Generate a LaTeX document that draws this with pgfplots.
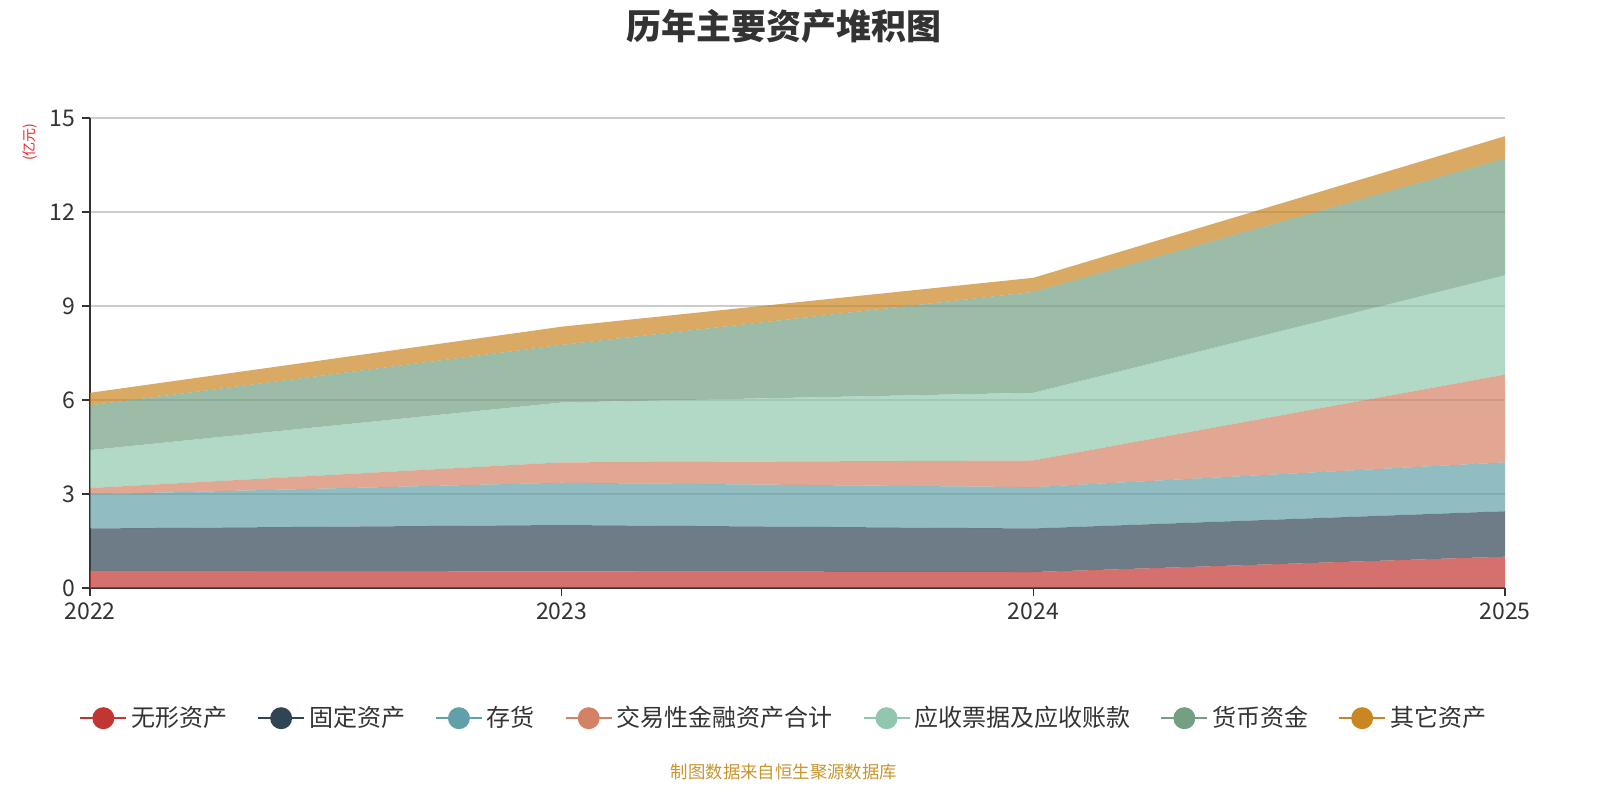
\documentclass[border=0pt]{standalone}
\usepackage{fontspec}
\setmainfont{Noto Sans CJK SC}
\usepackage{pgfplots}
\pgfplotsset{compat=1.18}

\definecolor{c1}{HTML}{C23531}
\definecolor{c2}{HTML}{2F4554}
\definecolor{c3}{HTML}{61A0A8}
\definecolor{c4}{HTML}{D48265}
\definecolor{c5}{HTML}{91C7AE}
\definecolor{c6}{HTML}{749F83}
\definecolor{c7}{HTML}{CA8622}
\definecolor{textdark}{HTML}{333333}
\definecolor{gridgray}{HTML}{CCCCCC}
\definecolor{footgold}{HTML}{C8962E}
\definecolor{unitred}{HTML}{E8262A}

\pgfplotsset{
  myleg/.style={legend image code/.code={
      \draw[#1, line width=0.9pt, opacity=1] (0pt,0pt) -- (23pt,0pt);
      \fill[#1, opacity=1] (11.5pt,0pt) circle (5.5pt);}},
  myarea/.style={fill=#1, fill opacity=0.7, draw=none, myleg=#1},
}

\begin{document}
\begin{tikzpicture}

\node[font=\fontsize{17.5}{20}\selectfont\bfseries, text=textdark] at (392pt,387pt) {历年主要资产堆积图};
\node[rotate=90, text=unitred, font=\fontsize{7}{8}\selectfont] at (15pt,329pt) {(亿元)};
\node[text=footgold, font=\fontsize{8.7}{10}\selectfont] at (392pt,14pt) {制图数据来自恒生聚源数据库};

\begin{axis}[
    at={(45pt,106pt)}, anchor=south west,
    scale only axis,
    width=707.5pt, height=235pt,
    xmin=2022, xmax=2025,
    ymin=0, ymax=15,
    xtick={2022,2023,2024,2025},
    ytick={0,3,6,9,12,15},
    x tick label style={/pgf/number format/1000 sep={}},
    /pgf/number format/assume math mode=true,
    ticklabel style={font=\fontsize{11.5}{13}\selectfont, text=textdark},
    axis lines*=left,
    axis line style={draw=textdark, line width=0.7pt},
    tick align=outside,
    major tick length=4pt,
    tick style={draw=textdark, line width=0.7pt},
    ymajorgrids=true,
    grid style={draw=gridgray, line width=0.6pt},
    stack plots=y,
    legend columns=-1,
    legend cell align=left,
    legend style={draw=none, fill=none,
      at={(0.491,-0.277)}, anchor=center,
      font=\fontsize{12}{14}\selectfont, text=textdark,
      /tikz/every even column/.append style={column sep=13pt}},
]

% 无形资产
\addplot[myarea=c1] coordinates {
  (2022,0.55)(2023,0.53)(2024,0.51)(2025,1.00)
} \closedcycle;
\addlegendentry{无形资产}

% 固定资产
\addplot[myarea=c2] coordinates {
  (2022,1.35)(2023,1.48)(2024,1.39)(2025,1.45)
} \closedcycle;
\addlegendentry{固定资产}

% 存货
\addplot[myarea=c3] coordinates {
  (2022,1.09)(2023,1.35)(2024,1.32)(2025,1.56)
} \closedcycle;
\addlegendentry{存货}

% 交易性金融资产合计
\addplot[myarea=c4] coordinates {
  (2022,0.20)(2023,0.65)(2024,0.85)(2025,2.80)
} \closedcycle;
\addlegendentry{交易性金融资产合计}

% 应收票据及应收账款
\addplot[myarea=c5] coordinates {
  (2022,1.21)(2023,1.91)(2024,2.16)(2025,3.17)
} \closedcycle;
\addlegendentry{应收票据及应收账款}

% 货币资金
\addplot[myarea=c6] coordinates {
  (2022,1.43)(2023,1.84)(2024,3.22)(2025,3.73)
} \closedcycle;
\addlegendentry{货币资金}

% 其它资产
\addplot[myarea=c7] coordinates {
  (2022,0.40)(2023,0.58)(2024,0.45)(2025,0.71)
} \closedcycle;
\addlegendentry{其它资产}

% axis lines again, above the areas
\draw[textdark, line width=0.7pt] (rel axis cs:0,0) -- (rel axis cs:1,0);
\draw[textdark, line width=0.7pt] (rel axis cs:0,0) -- (rel axis cs:0,1);
\end{axis}

\pgfresetboundingbox
\path[use as bounding box] (0pt,0pt) rectangle (800pt,400pt);
\end{tikzpicture}
\end{document}
